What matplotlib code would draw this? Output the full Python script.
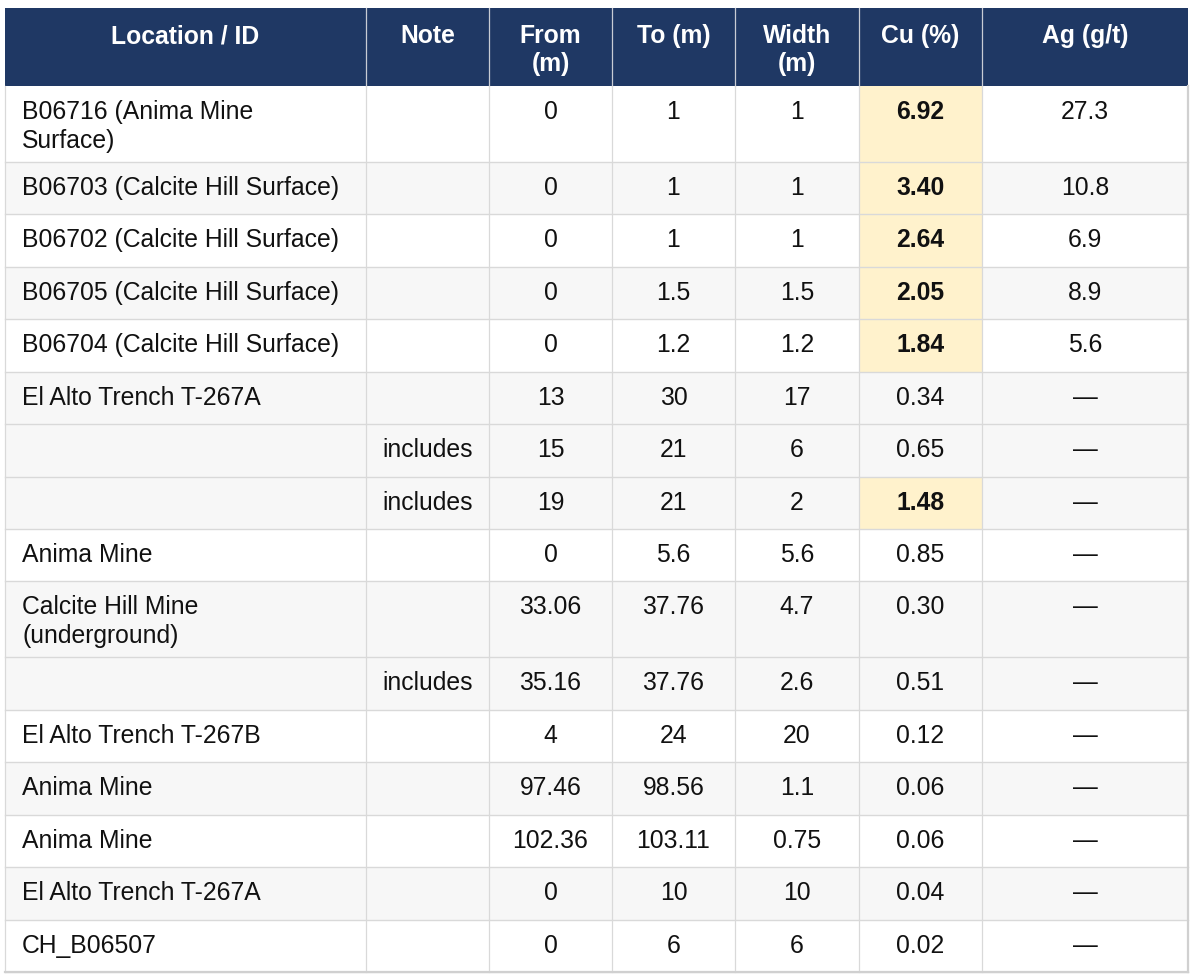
import matplotlib
matplotlib.use("Agg")
import matplotlib.pyplot as plt
from matplotlib.patches import Rectangle

# ---------------- data ----------------
headers = ["Location / ID", "Note", "From\n(m)", "To (m)", "Width\n(m)", "Cu (%)", "Ag (g/t)"]
locations = ["B06716 (Anima Mine\nSurface)", "B06703 (Calcite Hill Surface)",
             "B06702 (Calcite Hill Surface)", "B06705 (Calcite Hill Surface)",
             "B06704 (Calcite Hill Surface)", "El Alto Trench T-267A", "", "",
             "Anima Mine", "Calcite Hill Mine\n(underground)", "",
             "El Alto Trench T-267B", "Anima Mine", "Anima Mine",
             "El Alto Trench T-267A", "CH_B06507"]
notes = ["", "", "", "", "", "", "includes", "includes", "", "", "includes",
         "", "", "", "", ""]
from_m = ["0", "0", "0", "0", "0", "13", "15", "19", "0", "33.06", "35.16",
          "4", "97.46", "102.36", "0", "0"]
to_m = ["1", "1", "1", "1.5", "1.2", "30", "21", "21", "5.6", "37.76", "37.76",
        "24", "98.56", "103.11", "10", "6"]
width_m = ["1", "1", "1", "1.5", "1.2", "17", "6", "2", "5.6", "4.7", "2.6",
           "20", "1.1", "0.75", "10", "6"]
cu_pct = ["6.92", "3.40", "2.64", "2.05", "1.84", "0.34", "0.65", "1.48", "0.85",
          "0.30", "0.51", "0.12", "0.06", "0.06", "0.04", "0.02"]
ag_gt = ["27.3", "10.8", "6.9", "8.9", "5.6", "—", "—", "—", "—", "—", "—",
         "—", "—", "—", "—", "—"]

# ---------------- layout / style ----------------
col_edges = [5, 366, 489, 612, 735, 859, 982, 1188]
table_top, header_h = 8, 78
body_bottom = 972
line_gap = 29
HEADER_BG = "#1f3864"
ALT_BG = "#f7f7f7"
HIGHLIGHT_BG = "#fff2cc"
GRID = "#d9d9d9"
FS = 17.8
plt.rcParams["font.family"] = ["Liberation Sans", "DejaVu Sans"]

fig = plt.figure(figsize=(12, 9.8), dpi=100)
ax = fig.add_axes([0, 0, 1, 1])
ax.set_xlim(0, 1200)
ax.set_ylim(980, 0)
ax.axis("off")

# row heights: proportional to number of lines
nlines = [loc.count("\n") + 1 for loc in locations]
extra = 23.5
total = body_bottom - (table_top + header_h)
base_h = (total - extra * sum(n - 1 for n in nlines)) / len(locations)
heights = [base_h + extra * (n - 1) for n in nlines]

# header
hb = table_top + header_h
ax.add_patch(Rectangle((col_edges[0], table_top), col_edges[-1] - col_edges[0], header_h,
                       facecolor=HEADER_BG, edgecolor="none"))
for j, h in enumerate(headers):
    cx = (col_edges[j] + col_edges[j + 1]) / 2
    for k, line in enumerate(h.split("\n")):
        ax.text(cx, table_top + 35 + k * 28, line, ha="center", va="baseline",
                color="white", fontsize=FS, fontweight="bold")
for x in col_edges[1:-1]:
    ax.plot([x, x], [table_top, hb], color="#c8ccd4", lw=0.9)

# body
y = hb
group = -1
cols = [locations, notes, from_m, to_m, width_m, cu_pct, ag_gt]
for i in range(len(locations)):
    h = heights[i]
    if locations[i]:
        group += 1
    bg = ALT_BG if group % 2 == 1 else "white"
    ax.add_patch(Rectangle((col_edges[0], y), col_edges[-1] - col_edges[0], h,
                           facecolor=bg, edgecolor="none"))
    hi = float(cu_pct[i]) >= 1.0
    if hi:
        ax.add_patch(Rectangle((col_edges[5], y), col_edges[6] - col_edges[5], h,
                               facecolor=HIGHLIGHT_BG, edgecolor="none"))
    for j, col in enumerate(cols):
        val = col[i]
        if not val:
            continue
        for k, line in enumerate(val.split("\n")):
            by = y + 33 + k * line_gap
            if j == 0:
                ax.text(col_edges[0] + 17, by, line, ha="left", va="baseline",
                        color="#111111", fontsize=FS)
            else:
                cx = (col_edges[j] + col_edges[j + 1]) / 2
                ax.text(cx, by, line, ha="center", va="baseline", color="#111111",
                        fontsize=FS, fontweight="bold" if (j == 5 and hi) else "normal")
    y += h
    ax.plot([col_edges[0], col_edges[-1]], [y, y], color=GRID, lw=1.0)

for x in col_edges[1:-1]:
    ax.plot([x, x], [hb, body_bottom], color=GRID, lw=0.9)
ax.plot([col_edges[0], col_edges[0]], [hb, body_bottom], color=GRID, lw=0.9)
ax.plot([col_edges[-1], col_edges[-1]], [hb, body_bottom], color="#d0d0d0", lw=1.6)
ax.plot([col_edges[0], col_edges[-1]], [body_bottom, body_bottom], color="#d0d0d0", lw=1.6)

fig.savefig("out.png", dpi=100, facecolor="white")
